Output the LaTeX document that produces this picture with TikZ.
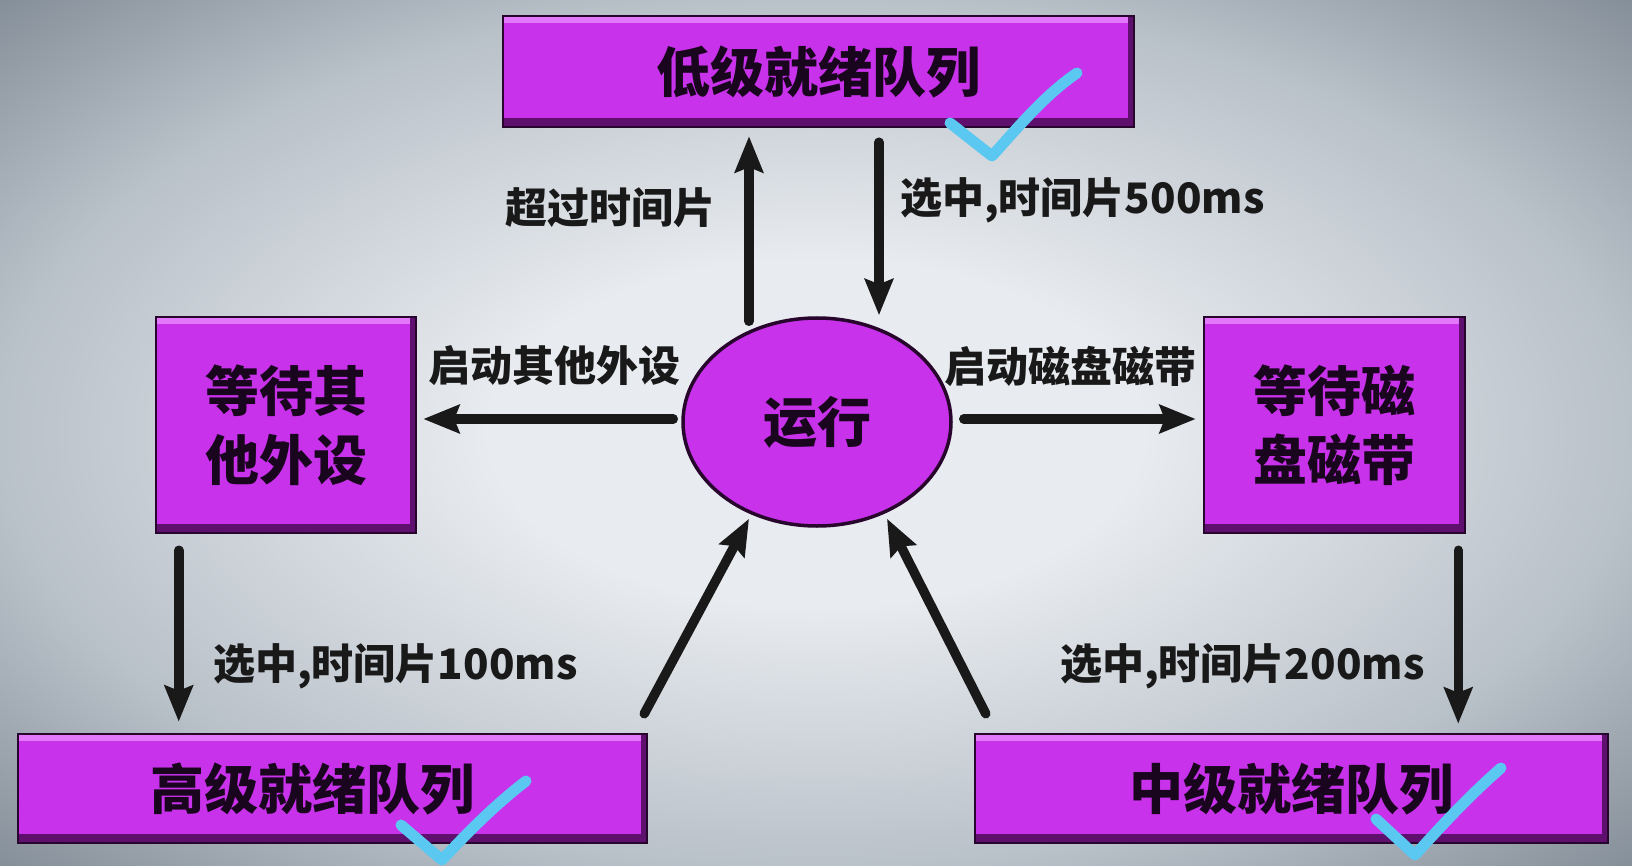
\documentclass[tikz,border=0pt]{standalone}
\usepackage{fontspec}
\setmainfont{Noto Sans CJK SC}
\usetikzlibrary{arrows.meta,calc,shapes.geometric}
\definecolor{boxpurple}{RGB}{200,50,235}
\definecolor{boxlight}{RGB}{228,120,250}
\definecolor{boxdark}{RGB}{95,15,110}
\definecolor{boxedge}{RGB}{40,5,45}
\definecolor{bgin}{RGB}{232,235,239}
\definecolor{bgmid}{RGB}{185,193,201}
\definecolor{bgout}{RGB}{130,140,150}
\definecolor{checkcyan}{RGB}{90,200,240}
\definecolor{txt}{RGB}{25,5,30}
\pgfdeclareradialshading{bgshade}{\pgfpoint{0bp}{0bp}}{color(0bp)=(bgin); color(10bp)=(bgin); color(25bp)=(bgmid); color(36bp)=(bgout); color(50bp)=(bgout)}
\begin{document}
\begin{tikzpicture}[x=1pt,y=-1pt,
  box/.style={rectangle, fill=boxpurple, draw=boxedge, line width=2.5pt, inner sep=0pt,
    text=txt, font=\fontsize{54}{69}\selectfont\bfseries, align=center,
    path picture={
      \fill[boxlight] (path picture bounding box.north west) rectangle ($(path picture bounding box.north east)+(0,7)$);
      \fill[boxdark] ($(path picture bounding box.south west)+(0,-9)$) rectangle (path picture bounding box.south east);
      \fill[boxdark] ($(path picture bounding box.north east)+(-6,0)$) rectangle (path picture bounding box.south east);
    }},
  runnode/.style={ellipse, fill=boxpurple, draw=boxedge, line width=3.5pt, inner sep=0pt,
    text=txt, font=\fontsize{54}{66}\selectfont\bfseries},
  lab/.style={font=\fontsize{42}{50}\selectfont\bfseries, text=black!90, inner sep=0pt},
  arr/.style={line width=9.5pt, draw=black!90, line cap=round, -{Stealth[length=36pt,width=28pt,inset=5pt]}},
  tick/.style={draw=checkcyan, line width=11pt, line cap=round, line join=round}]

\shade[shading=bgshade] (0,0) rectangle (1632,866);
\useasboundingbox (0,0) rectangle (1632,866);

\node[box, minimum width=631pt, minimum height=111pt] (top) at (818.5,71.5) {低级就绪队列};
\node[box, minimum width=260pt, minimum height=216pt] (lbox) at (286,425) {等待其\\他外设};
\node[box, minimum width=261pt, minimum height=216pt] (rbox) at (1334.5,425) {等待磁\\盘磁带};
\node[runnode, minimum width=268pt, minimum height=208pt] (run) at (817,422) {运行};
\node[box, minimum width=629pt, minimum height=109pt] (bl) at (332.5,788.5) {高级就绪队列\hspace*{40pt}};
\node[box, minimum width=633pt, minimum height=109pt] (br) at (1291.5,788.5) {中级就绪队列};

\node[lab] (l1) at (610.5,208) {超过时间片};
\node[lab, anchor=west] (l2) at (900,200) {选中,时间片500ms};
\node[lab] (l3) at (554,366) {启动其他外设};
\node[lab] (l4) at (1070,366) {启动磁盘磁带};
\node[lab, anchor=west] (l5) at (213,666) {选中,时间片100ms};
\node[lab, anchor=west] (l6) at (1060,666) {选中,时间片200ms};

\draw[arr] ($(run.north)+(-68,5)$) -- ($(top.south -| run.north)+(-68,8)$);
\draw[arr] ($(top.south -| run.north)+(62,14)$) -- ($(run.north)+(62,-1)$);
\draw[arr] ($(run.west)+(-8,-3)$) -- ($(lbox.east |- run.west)+(6,-3)$);
\draw[arr] ($(run.east)+(11,-3)$) -- ($(rbox.west |- run.east)+(-7,-3)$);
\draw[arr] ($(lbox.south west)+(24,16)$) -- ($(lbox.south west |- bl.north)+(24,-11)$);
\draw[arr] ($(rbox.south east)+(-8,16)$) -- ($(rbox.south east |- br.north)+(-8,-9)$);
\draw[arr] ($(bl.north east)+(-4,-19)$) -- ($(run.south)+(-68,-9)$);
\draw[arr] ($(br.north west)+(12,-19)$) -- ($(run.south)+(70,-9)$);

\draw[tick] (950,123) -- (992,156) .. controls (1020,125) and (1045,95) .. (1077,73);
\draw[tick] (401,825) -- (442,860) .. controls (470,830) and (495,805) .. (526,781);
\draw[tick] (1376,819) -- (1415,855) .. controls (1443,824) and (1470,795) .. (1501,768);
\end{tikzpicture}
\end{document}
